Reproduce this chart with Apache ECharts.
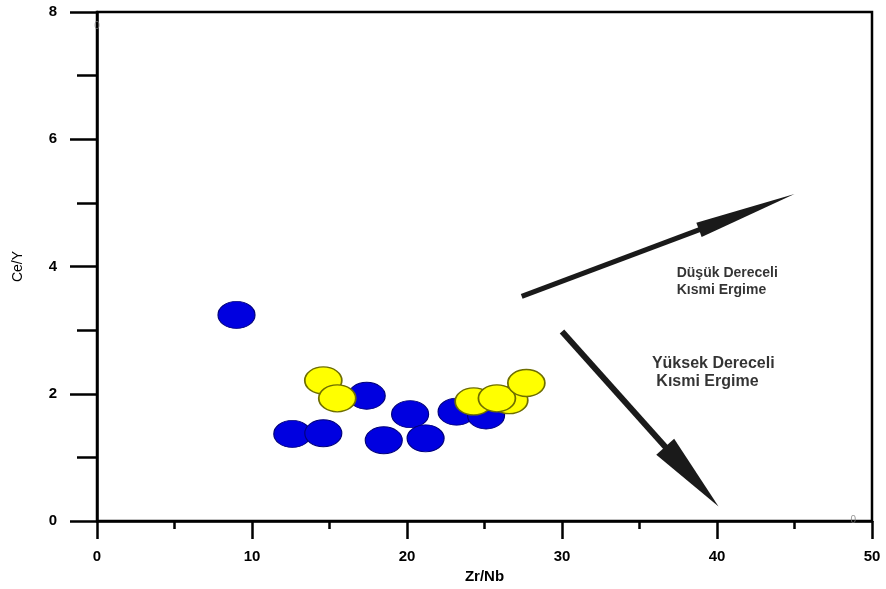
<!DOCTYPE html>
<html>
<head>
<meta charset="utf-8">
<script src="https://cdn.jsdelivr.net/npm/echarts@6/dist/echarts.min.js"></script>
<style>
html,body{margin:0;padding:0;background:#fff;}
#chart{width:886px;height:589px;}
</style>
</head>
<body>
<div id="chart"></div>
<script>
// ---- data ----
var xTicks = [0, 10, 20, 30, 40, 50];
var yTicks = [0, 2, 4, 6, 8];
var blueX = [9.0, 12.6, 14.6, 17.4, 18.5, 20.2, 21.2, 23.2, 25.1];
var blueY = [3.24, 1.37, 1.38, 1.97, 1.27, 1.68, 1.30, 1.72, 1.66];
var yellowX = [14.6, 15.5, 24.3, 26.6, 25.8, 27.7];
var yellowY = [2.21, 1.93, 1.88, 1.90, 1.93, 2.17];
// arrows: [x1, y1, x2, y2]
var arrowLow = [27.4, 3.53, 45.0, 5.14];
var arrowHigh = [30.0, 2.98, 40.1, 0.23];
var labelLow = ['Düşük Dereceli', 'Kısmi Ergime'];
var labelHigh = ['Yüksek Dereceli', ' Kısmi Ergime'];
var labelLowPos = [37.4, 3.76];
var labelHighPos = [35.8, 2.33];
var strayMarks = [[0.0, 7.78], [48.8, 0.02]];

function pairs(xs, ys){ var o=[]; for(var i=0;i<xs.length;i++) o.push([xs[i], ys[i]]); return o; }

var chart = echarts.init(document.getElementById('chart'), null, {renderer:'canvas'});
var FONT = '"Liberation Sans", Arial, sans-serif';

function arrowRender(headLen, headW, shaftW){
  return function(params, api){
    var p1 = api.coord([api.value(0), api.value(1)]);
    var p2 = api.coord([api.value(2), api.value(3)]);
    var dx = p2[0]-p1[0], dy = p2[1]-p1[1];
    var L = Math.sqrt(dx*dx+dy*dy); var ux = dx/L, uy = dy/L;
    var bx = p2[0]-ux*headLen, by = p2[1]-uy*headLen;
    var nx = -uy, ny = ux;
    return {type:'group', children:[
      {type:'line', shape:{x1:p1[0], y1:p1[1], x2:bx+ux*2, y2:by+uy*2},
       style:{stroke:'#1a1a1a', lineWidth:shaftW, lineCap:'butt'}},
      {type:'polygon', shape:{points:[[p2[0],p2[1]],[bx+nx*headW/2, by+ny*headW/2],[bx-nx*headW/2, by-ny*headW/2]]},
       style:{fill:'#1a1a1a'}}
    ]};
  };
}

var option = {
  animation:false,
  backgroundColor:'#fff',
  grid:{left:97, right:14, top:12, bottom:64, show:true, borderColor:'#000', borderWidth:2.5, backgroundColor:'transparent'},
  xAxis:{
    type:'value', min:xTicks[0], max:xTicks[xTicks.length-1], interval:10,
    name:'Zr/Nb', nameLocation:'middle', nameGap:47,
    nameTextStyle:{color:'#000', fontFamily:FONT, fontWeight:'bold', fontSize:15},
    axisLine:{onZero:false, lineStyle:{color:'#000', width:2.5}},
    axisTick:{length:18, lineStyle:{color:'#000', width:2.5}},
    minorTick:{show:true, splitNumber:2, length:8, lineStyle:{color:'#000', width:2.5}},
    splitLine:{show:false}, minorSplitLine:{show:false},
    axisLabel:{margin:28, color:'#000', fontFamily:FONT, fontWeight:'bold', fontSize:15}
  },
  yAxis:{
    type:'value', min:yTicks[0], max:yTicks[yTicks.length-1], interval:2,
    name:'Ce/Y', nameLocation:'middle', nameGap:72,
    nameTextStyle:{color:'#000', fontFamily:FONT, fontSize:14},
    axisLine:{onZero:false, lineStyle:{color:'#000', width:2.5}},
    axisTick:{length:27, lineStyle:{color:'#000', width:2.5}},
    minorTick:{show:true, splitNumber:2, length:20, lineStyle:{color:'#000', width:2.5}},
    splitLine:{show:false}, minorSplitLine:{show:false},
    axisLabel:{margin:40, color:'#000', fontFamily:FONT, fontWeight:'bold', fontSize:15}
  },
  series:[
    {type:'scatter', name:'blue', data:pairs(blueX, blueY), symbol:'circle', symbolSize:[37,27],
     itemStyle:{color:'#0000e0', borderColor:'#00007a', borderWidth:1, opacity:1}, z:3},
    {type:'scatter', name:'yellow', data:pairs(yellowX, yellowY), symbol:'circle', symbolSize:[37,27],
     itemStyle:{color:'#ffff00', borderColor:'#6e6e00', borderWidth:1.5, opacity:1}, z:4},
    {type:'custom', name:'arrowLow', renderItem:arrowRender(102,15,5), data:[arrowLow], z:5, silent:true},
    {type:'custom', name:'arrowHigh', renderItem:arrowRender(80,24,6), data:[arrowHigh], z:5, silent:true},
    {type:'scatter', name:'texts', symbolSize:0, silent:true, z:6,
     data:[
       {value:labelLowPos, label:{formatter:labelLow.join('\n'), fontSize:14, lineHeight:17}},
       {value:labelHighPos, label:{formatter:labelHigh.join('\n'), fontSize:16, lineHeight:18}}
     ],
     label:{show:true, position:'right', distance:0, align:'left', color:'#000', fontFamily:FONT, fontWeight:'bold'}
    },
    {type:'scatter', name:'stray', symbolSize:0, silent:true, z:6, data:strayMarks,
     label:{show:true, position:'inside', formatter:'0', color:'#7a7a7a', fontFamily:FONT, fontSize:10}}
  ]
};
chart.setOption(option);
</script>
</body>
</html>
